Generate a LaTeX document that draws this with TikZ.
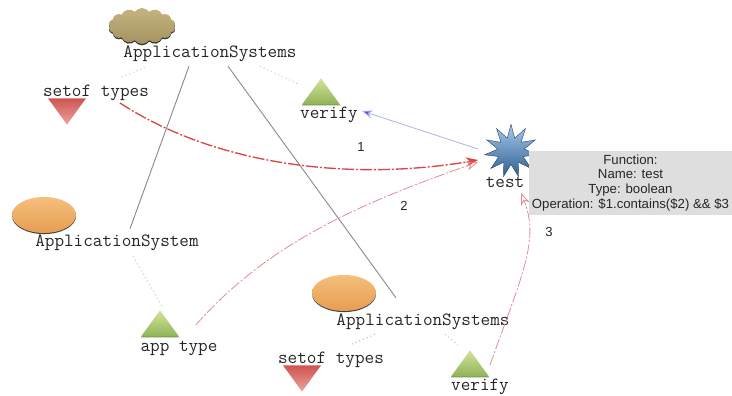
\documentclass[tikz,border=0pt]{standalone}
\usepackage{fontspec}
\newfontfamily\boxfont{Liberation Sans}
\usetikzlibrary{arrows.meta,shapes.geometric,shapes.symbols,shadows,positioning}
\definecolor{greenA}{HTML}{D2E49A}
\definecolor{greenB}{HTML}{8FB356}
\definecolor{redA}{HTML}{CF5450}
\definecolor{redB}{HTML}{EBA3A0}
\definecolor{orangeA}{HTML}{F6BE7C}
\definecolor{orangeB}{HTML}{E59E52}
\definecolor{cloudA}{HTML}{C6B480}
\definecolor{cloudB}{HTML}{A39260}
\definecolor{blueA}{HTML}{A8C8EA}
\definecolor{blueB}{HTML}{2F5F92}
\definecolor{edgeRed}{HTML}{D9483E}
\definecolor{edgePink}{HTML}{E58A90}
\definecolor{edgeBlue}{HTML}{A9B4EE}
\definecolor{linkGrey}{HTML}{8C8C8C}
\definecolor{dotGreen}{HTML}{BEE4B4}
\definecolor{dotRed}{HTML}{DDB4BC}
\definecolor{panelGrey}{HTML}{DEDEDE}
\tikzset{
  lab/.style={font=\fontsize{14}{16}\selectfont\ttfamily, inner sep=0pt, text=black!85},
  num/.style={font=\boxfont\fontsize{9.8}{11}\selectfont, inner sep=0pt, text=black!85},
  uptri/.style={isosceles triangle, isosceles triangle apex angle=72, shape border rotate=90, inner sep=0pt, minimum height=19.5pt, minimum width=28.5pt, anchor=apex, top color=greenA, bottom color=greenB, drop shadow={shadow xshift=0pt, shadow yshift=-.6pt, fill=greenB!70!black, opacity=.9}},
  downtri/.style={isosceles triangle, isosceles triangle apex angle=72, shape border rotate=-90, inner sep=0pt, minimum height=19.5pt, minimum width=28.5pt, anchor=apex, top color=redA, bottom color=redB},
  oval/.style={ellipse, inner sep=0pt, minimum width=48pt, minimum height=27pt, top color=orangeA, bottom color=orangeB, drop shadow={shadow xshift=0pt, shadow yshift=-.8pt, fill=black!75, opacity=1}},
  puff/.style={cloud, cloud puffs=14, cloud puff arc=110, aspect=1.8, inner sep=0pt, minimum width=50pt, minimum height=27pt, top color=cloudA, bottom color=cloudB, drop shadow={shadow xshift=0pt, shadow yshift=-1pt, fill=black!80, opacity=1}},
  burst/.style={star, star points=11, star point ratio=2, inner sep=0pt, minimum size=40pt, top color=blueA, bottom color=blueB, draw=blueB!70!black, line width=.3pt},
  panel/.style={fill=panelGrey, inner sep=0pt, minimum width=153pt, minimum height=48pt, align=center, font=\boxfont\fontsize{9.9}{11.2}\selectfont, text=black!85},
  link/.style={draw=linkGrey, line width=.7pt},
  dotg/.style={draw=dotGreen, line width=.8pt, dash pattern=on 1pt off 2pt},
  dotr/.style={draw=dotRed, line width=.8pt, dash pattern=on 1pt off 2pt},
  fn1/.style={draw=edgeRed, line width=1pt, dash pattern=on 9pt off 1.5pt on 1.5pt off 1.5pt, -{Stealth[length=9pt,width=7pt]}},
  fn2/.style={draw=edgePink, line width=.6pt, dash pattern=on 8pt off 1.5pt on 1.5pt off 1.5pt, -{Stealth[length=9pt,width=7pt,open]}},
  inv/.style={draw=edgeBlue, line width=.6pt, -{Stealth[length=8pt,width=6pt,fill=blue!70]}}
}
\begin{document}
\begin{tikzpicture}[x=.75pt,y=-.75pt]
\useasboundingbox (0,0) rectangle (732,396);
\node[puff] (cl) at (142,26) {};
\node[lab] (clL) at (210,54) {ApplicationSystems};
\node[lab] (s1L) at (96,93) {setof types};
\node[downtri] (s1) at (67,125) {};
\node[uptri] (v1) at (321,78) {};
\node[lab] (v1L) at (329,115) {verify};
\node[burst] (st) at (511,151) {};
\node[lab] (stL) at (505,182) {test};
\node[oval] (e1) at (44,215) {};
\node[lab] (e1L) at (117,243) {ApplicationSystem};
\node[uptri] (a) at (160,310) {};
\node[lab] (aL) at (179,348) {app type};
\node[oval] (e2) at (344,293) {};
\node[lab] (e2L) at (423,322) {ApplicationSystems};
\node[lab] (s2L) at (331,360) {setof types};
\node[downtri] (s2) at (302,392) {};
\node[uptri] (v2) at (470,350) {};
\node[lab] (v2L) at (480,387) {verify};
\node[num] (n1) at (361,147) {1};
\node[num] (n2) at (404,206) {2};
\node[num] (n3) at (549,232) {3};

\path[link] ([shift={(-21,4)}]clL.south) -- ([shift={(13,-6)}]e1L.north);
\path[link] ([shift={(18,4)}]clL.south) -- ([shift={(-27,-16)}]e2L.north);
\path[dotg] ([shift={(-65,5)}]clL.south) -- ([shift={(24,-7)}]s1L.north);
\path[dotg] ([shift={(50,4)}]clL.south) -- ([shift={(-23,6)}]v1.apex);
\path[dotg] ([shift={(16,5)}]e1L.south) -- ([shift={(3,-2)}]a.apex);
\path[dotr] ([shift={(-48,4)}]e2L.south) -- ([shift={(19,-7)}]s2L.north);
\path[dotg] ([shift={(22,4)}]e2L.south) -- ([shift={(-12,-5)}]v2.apex);

\path[inv] ([shift={(-33,-2)}]st.center) -- ([shift={(33,-4)}]v1L.center);
\path[fn1] ([shift={(24,10)}]s1L.center) .. controls (215,165) and (350,182) .. ([shift={(-33,9)}]st.center);
\path[fn2] ([shift={(36,-2)}]a.center) .. controls (270,240) and (370,200) .. ([shift={(-33,11)}]st.center);
\path[fn2] ([shift={(20,-2)}]v2.center) .. controls (522,275) and (540,240) .. ([shift={(16,11)}]stL.center);

\node[panel] (pn) at (630.5,183) {Function:\\Name: test\\Type: boolean\\Operation: \$1.contains(\$2) \&\& \$3};
\end{tikzpicture}
\end{document}
